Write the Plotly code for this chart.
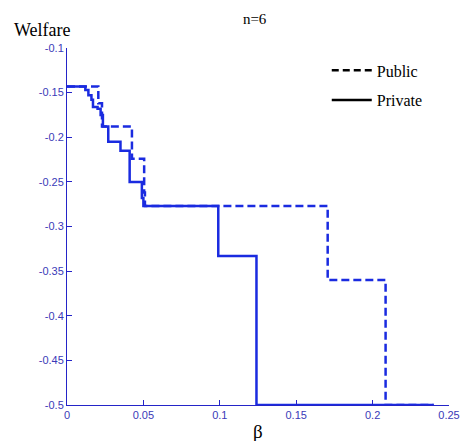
import plotly.graph_objects as go

# Data
private_beta = [0, 0.012, 0.014, 0.016, 0.017, 0.020, 0.022, 0.0235, 0.027, 0.035, 0.041, 0.049, 0.050, 0.099, 0.124, 0.240]
private_welfare = [-0.143, -0.147, -0.153, -0.158, -0.166, -0.168, -0.175, -0.188, -0.205, -0.215, -0.250, -0.268, -0.277, -0.333, -0.5, -0.5]

public_beta = [0, 0.0205, 0.0229, 0.0425, 0.0505, 0.051, 0.1706, 0.2085, 0.240]
public_welfare = [-0.143, -0.162, -0.188, -0.224, -0.262, -0.277, -0.360, -0.5, -0.5]

x_ticks = [0, 0.05, 0.1, 0.15, 0.2, 0.25]
x_tick_labels = ["0", "0.05", "0.1", "0.15", "0.2", "0.25"]
y_ticks = [-0.1, -0.15, -0.2, -0.25, -0.3, -0.35, -0.4, -0.45, -0.5]
y_tick_labels = ["-0.1", "-0.15", "-0.2", "-0.25", "-0.3", "-0.35", "-0.4", "-0.45", "-0.5"]

LINE_BLUE = "#1a2be0"
AXIS_BLUE = "#2424c8"
SERIF = "Liberation Serif, Times New Roman, serif"

fig = go.Figure()

fig.add_trace(go.Scatter(x=public_beta, y=public_welfare, mode="lines", line_shape="hv",
                         line=dict(color=LINE_BLUE, width=2.5, dash="8px,4px"),
                         showlegend=False, hoverinfo="skip"))
fig.add_trace(go.Scatter(x=private_beta, y=private_welfare, mode="lines", line_shape="hv",
                         line=dict(color=LINE_BLUE, width=2.5),
                         showlegend=False, hoverinfo="skip"))

# Legend entries (black)
fig.add_trace(go.Scatter(x=[None], y=[None], mode="lines", name="Public", legendgroup="a",
                         line=dict(color="black", width=2.5, dash="7px,4px")))
fig.add_trace(go.Scatter(x=[None], y=[None], mode="lines", name="Private", legendgroup="b",
                         line=dict(color="black", width=2.5)))

fig.update_layout(
    width=463, height=441,
    margin=dict(l=67, r=14, t=48, b=36),
    paper_bgcolor="white", plot_bgcolor="white",
    showlegend=True,
    legend=dict(x=0.68, y=0.985, xanchor="left", yanchor="top",
                font=dict(family=SERIF, size=16, color="black"),
                bgcolor="rgba(0,0,0,0)", tracegroupgap=6, itemwidth=40),
    title=dict(text="n=6", x=0.55, xanchor="center", y=0.958, yanchor="middle",
               font=dict(family=SERIF, size=15, color="black")),
    xaxis=dict(range=[0, 0.25], tickvals=x_ticks, ticktext=x_tick_labels, automargin=False,
               showgrid=False, zeroline=False, showline=True, linecolor=AXIS_BLUE, linewidth=1,
               ticks="inside", ticklen=5, tickcolor=AXIS_BLUE,
               tickfont=dict(family="Liberation Sans, Arial, sans-serif", size=11, color="#3a3ab8")),
    yaxis=dict(range=[-0.5, -0.1], tickvals=y_ticks, ticktext=y_tick_labels, automargin=False,
               showgrid=False, zeroline=False, showline=True, linecolor=AXIS_BLUE, linewidth=1,
               ticks="inside", ticklen=5, tickcolor=AXIS_BLUE,
               tickfont=dict(family="Liberation Sans, Arial, sans-serif", size=11, color="#3a3ab8")),
    annotations=[
        dict(text="Welfare", xref="paper", yref="paper", x=-0.145, y=1.05, xanchor="left", yanchor="middle",
             showarrow=False, font=dict(family=SERIF, size=18, color="black")),
        dict(text="β", xref="paper", yref="paper", x=0.5, y=-0.075, xanchor="center", yanchor="middle",
             showarrow=False, font=dict(family=SERIF, size=19, color="black")),
    ],
)

fig.write_html("out.html", config={"displayModeBar": False},
               post_script="document.body.style.margin='0px';document.body.style.overflow='hidden';")
